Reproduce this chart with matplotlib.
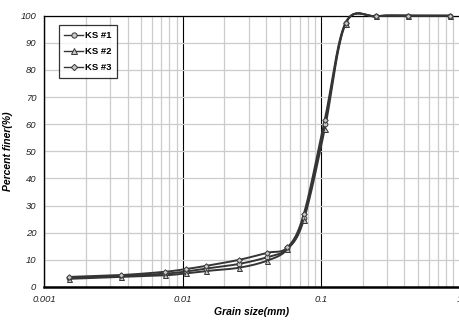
import numpy as np
import matplotlib
matplotlib.use("Agg")
import matplotlib.pyplot as plt
from matplotlib.ticker import LogLocator, FixedLocator, NullFormatter, FixedFormatter

plt.rcParams['font.family'] = ['Liberation Sans', 'DejaVu Sans']

grain_size = [0.0015, 0.0036, 0.0074, 0.0105, 0.0148, 0.0255, 0.0407, 0.057,
              0.0748, 0.106, 0.15, 0.25, 0.425, 0.85]
ks1 = [3.3, 4.0, 4.9, 5.7, 6.8, 8.5, 11.0, 14.2, 25.5, 60.0, 97.2, 99.8, 100, 100]
ks2 = [3.0, 3.7, 4.3, 5.0, 5.9, 7.1, 9.7, 13.9, 24.7, 58.1, 97.0, 99.8, 100, 100]
ks3 = [3.7, 4.4, 5.6, 6.6, 7.8, 10.0, 12.6, 14.6, 26.8, 61.5, 97.4, 99.8, 100, 100]
series_names = ["KS #1", "KS #2", "KS #3"]
x_tick_vals = [0.001, 0.01, 0.1, 1]
x_tick_labels = ["0.001", "0.01", "0.1", "1"]
y_ticks = [0, 10, 20, 30, 40, 50, 60, 70, 80, 90, 100]


def smooth(xs, ys, n=30):
    # Excel-like Bezier smoothing in scaled (log-x, y) space
    u = np.log10(np.asarray(xs)) * 138.5
    v = np.asarray(ys, float) * 2.713
    P = np.column_stack([u, v])
    out = [P[0]]
    m = len(P)
    t = np.linspace(0, 1, n)[1:, None]
    for i in range(m - 1):
        p0 = P[i]
        p3 = P[i + 1]
        prev = P[i - 1] if i > 0 else P[i]
        nxt = P[i + 2] if i + 2 < m else P[i + 1]
        c1 = p0 + (p3 - prev) / 6.0
        c2 = p3 - (nxt - p0) / 6.0
        seg = ((1 - t) ** 3) * p0 + 3 * ((1 - t) ** 2) * t * c1 + 3 * (1 - t) * t ** 2 * c2 + t ** 3 * p3
        out.extend(seg)
    out = np.array(out)
    return 10 ** (out[:, 0] / 138.5), out[:, 1] / 2.713


fig = plt.figure(figsize=(4.6, 3.21), dpi=100)
ax = fig.add_axes([0.0967, 0.106, 0.9023, 0.845])

line_col = '#353535'
face = '#c8c8c8'
markers = ['o', '^', 'D']
msizes = [3.4, 3.6, 2.8]
for name, vals, mk, ms in zip(series_names, [ks1, ks2, ks3], markers, msizes):
    sx, sy = smooth(grain_size, vals)
    ax.plot(sx, sy, color=line_col, lw=1.4, zorder=3, clip_on=False)
    ax.plot(grain_size, vals, linestyle='none', marker=mk, ms=ms, mfc=face,
            mec=line_col, mew=0.7, zorder=4, clip_on=False)
    ax.plot([], [], color=line_col, lw=1.0, marker=mk, ms=ms + 0.4, mfc=face,
            mec=line_col, mew=0.7, label=name)

ax.set_xscale('log')
ax.set_xlim(0.001, 1)
ax.set_ylim(0, 100)

ax.xaxis.set_major_locator(FixedLocator(x_tick_vals))
ax.xaxis.set_major_formatter(FixedFormatter(x_tick_labels))
ax.xaxis.set_minor_locator(LogLocator(base=10, subs=np.arange(2, 10)))
ax.xaxis.set_minor_formatter(NullFormatter())
ax.set_yticks(y_ticks)

ax.grid(True, which='minor', axis='x', color='#cccccc', lw=0.9)
ax.grid(True, which='major', axis='y', color='#cccccc', lw=0.9)
ax.grid(True, which='major', axis='x', color='black', lw=0.8)
ax.set_axisbelow(True)

ax.tick_params(which='both', length=0)
ax.tick_params(axis='both', labelsize=6.8, pad=6, colors='#222222')
for lbl in ax.get_xticklabels() + ax.get_yticklabels():
    lbl.set_fontstyle('italic')

ax.spines['right'].set_visible(False)
ax.spines['left'].set_linewidth(1.0)
ax.spines['top'].set_linewidth(0.9)
ax.spines['bottom'].set_linewidth(1.8)

ax.set_xlabel('Grain size(mm)', fontsize=7.5, fontweight='bold', fontstyle='italic', labelpad=2)
ax.set_ylabel('Percent finer(%)', fontsize=7.5, fontweight='bold', fontstyle='italic', labelpad=5)

leg = ax.legend(loc='upper left', bbox_to_anchor=(0.034, 0.965), fontsize=6.8,
                frameon=True, fancybox=False, handlelength=2.0, handletextpad=0.2,
                borderpad=0.6, labelspacing=0.75, borderaxespad=0)
leg.get_frame().set_edgecolor('black')
leg.get_frame().set_linewidth(0.9)
for t in leg.get_texts():
    t.set_fontweight('bold')

fig.savefig('out.png', dpi=100)
